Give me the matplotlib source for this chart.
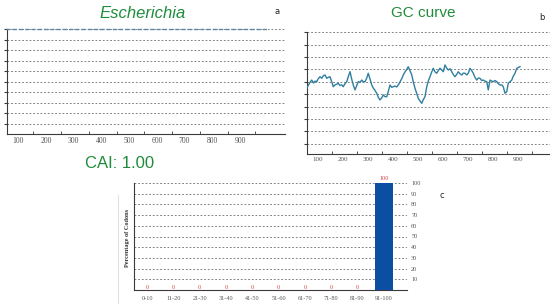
import matplotlib
matplotlib.use("Agg")
import matplotlib.pyplot as plt
import numpy as np

# ---- data ---------------------------------------------------------------
# panel a: CAI curve (flat at 1.0)
cai_x = [55, 1000]
cai_y = [1.0, 1.0]
a_labels = [100, 200, 300, 400, 500, 600, 700, 800, 900]

# panel b: GC curve
gc_x = [55, 62, 68, 75, 82, 88, 95, 101, 108, 115,
        121, 128, 135, 141, 148, 155, 161, 168, 175, 181,
        188, 195, 201, 208, 215, 221, 228, 235, 241, 248,
        255, 261, 268, 275, 281, 288, 295, 301, 308, 315,
        321, 328, 335, 341, 348, 355, 361, 368, 375, 381,
        388, 395, 401, 408, 415, 421, 428, 435, 441, 448,
        455, 461, 468, 475, 481, 488, 495, 501, 508, 515,
        521, 528, 535, 541, 548, 555, 561, 568, 575, 581,
        588, 595, 601, 608, 615, 621, 628, 635, 641, 648,
        655, 661, 668, 675, 681, 688, 695, 701, 708, 715,
        721, 728, 735, 741, 748, 755, 761, 768, 775, 781,
        788, 795, 801, 808, 815, 821, 828, 835, 841, 848,
        855, 861, 868, 875, 881, 888, 895, 901, 908]
gc_y = [54.7, 57.5, 59.5, 61.4, 59.0, 60.5, 60.1, 62.5, 64.1, 62.8,
        64.8, 65.5, 62.8, 63.5, 64.1, 60.0, 56.0, 57.5, 58.0, 58.8,
        57.0, 57.5, 56.0, 58.5, 60.1, 64.0, 68.2, 62.0, 57.4, 53.4,
        57.0, 60.1, 59.5, 61.4, 60.0, 60.1, 63.0, 66.9, 62.0, 57.4,
        55.0, 53.0, 50.7, 47.5, 45.3, 47.0, 49.3, 48.0, 47.9, 52.0,
        57.4, 55.5, 56.0, 56.5, 55.8, 57.4, 60.0, 62.5, 65.5, 68.0,
        70.0, 72.2, 69.0, 65.5, 60.0, 54.7, 50.5, 46.6, 44.5, 42.6,
        45.5, 48.0, 56.0, 60.5, 64.1, 68.0, 70.9, 68.0, 66.9, 69.0,
        70.9, 69.5, 68.1, 73.6, 71.0, 69.5, 70.5, 68.1, 66.0, 64.1,
        66.0, 68.1, 66.5, 65.5, 67.0, 66.9, 65.5, 66.9, 70.9, 69.0,
        66.9, 63.5, 61.4, 63.0, 62.8, 61.0, 61.4, 60.5, 60.1, 53.4,
        61.4, 60.5, 60.1, 61.0, 60.1, 58.5, 57.4, 57.5, 56.0, 50.7,
        52.0, 58.8, 60.0, 61.4, 64.5, 66.9, 70.9, 71.5, 72.2]
b_labels = [100, 200, 300, 400, 500, 600, 700, 800, 900]

# panel c: distribution of codon usage frequency
c_cats = ["0-10", "11-20", "21-30", "31-40", "41-50", "51-60",
          "61-70", "71-80", "81-90", "91-100"]
c_vals = [0, 0, 0, 0, 0, 0, 0, 0, 0, 100]

# ---- styling ------------------------------------------------------------
GREEN = "#1e8c3a"
GRID = "#6e6e6e"
SPINE = "#3a3a3a"
TICKC = "#555555"
SERIF = ["Liberation Serif", "DejaVu Serif"]

fig = plt.figure(figsize=(5.5, 3.04), dpi=100, facecolor="white")


def style_axes(ax, grid_vals):
    for side in ("top", "right"):
        ax.spines[side].set_visible(False)
    for side in ("left", "bottom"):
        ax.spines[side].set_color(SPINE)
        ax.spines[side].set_linewidth(0.8)
    for g in grid_vals:
        ax.axhline(g, color=GRID, lw=0.6, ls=(0, (2.2, 2.2)), zorder=1)


# panel a
ax_a = fig.add_axes([7 / 550, 1 - 134 / 304, 278 / 550, 105 / 304])
style_axes(ax_a, np.arange(0.1, 1.01, 0.1))
ax_a.plot(cai_x, cai_y, color="#5d86a3", lw=1.0, ls=(0, (3, 1.5)),
          zorder=3, clip_on=False)
ax_a.set_xlim(60, 1062)
ax_a.set_ylim(0, 1.0)
ax_a.set_xticks(a_labels)
ax_a.set_xticklabels([str(v) for v in a_labels], fontsize=5.5,
                     color=TICKC, family=SERIF)
ax_a.set_xticks([v + 55 for v in a_labels], minor=True)
ax_a.tick_params(axis="x", which="major", length=0, pad=2)
ax_a.tick_params(axis="x", which="minor", length=2.5, direction="in",
                 color=SPINE)
ax_a.set_yticks(np.arange(0.1, 1.01, 0.1))
ax_a.set_yticklabels([])
ax_a.tick_params(axis="y", length=2, color=SPINE, width=0.8)
fig.text(143 / 550, 1 - 13 / 304, "Escherichia", color=GREEN, fontsize=12,
         style="italic", family="Liberation Sans", ha="center", va="center")
fig.text(277 / 550, 1 - 12 / 304, "a", fontsize=6, color="#222222",
         ha="center", va="center")

# panel b
ax_b = fig.add_axes([307 / 550, 1 - 154 / 304, 243 / 550, 121.7 / 304])
style_axes(ax_b, np.arange(10, 101, 10))
ax_b.plot(gc_x, gc_y, color="#2f7fa0", lw=1.0, zorder=3)
ax_b.set_xlim(56, 1028)
ax_b.set_ylim(1.6, 100)
ax_b.set_xticks(b_labels)
ax_b.set_xticklabels([str(v) for v in b_labels], fontsize=5,
                     color=TICKC, family=SERIF)
ax_b.set_xticks([v + 55 for v in b_labels], minor=True)
ax_b.tick_params(axis="x", which="major", length=0, pad=2)
ax_b.tick_params(axis="x", which="minor", length=2.5, direction="in",
                 color=SPINE)
ax_b.set_yticks(np.arange(10, 101, 10))
ax_b.set_yticklabels([])
ax_b.tick_params(axis="y", length=2, color=SPINE, width=0.8)
fig.text(423 / 550, 1 - 13 / 304, "GC curve", color=GREEN, fontsize=11,
         family="Liberation Sans", ha="center", va="center")
fig.text(542 / 550, 1 - 17 / 304, "b", fontsize=6, color="#222222",
         ha="center", va="center")

# panel c
fig.text(120 / 550, 1 - 163 / 304, "CAI: 1.00", color=GREEN, fontsize=12,
         family="Liberation Sans", ha="center", va="center")
# faint frame edge left of the histogram
fig.add_artist(plt.Line2D([118 / 550, 118 / 550], [0.0, 1 - 195 / 304],
                          color="#e2e2e2", lw=0.8))
ax_c = fig.add_axes([134 / 550, 1 - 290 / 304, 273 / 550, 107 / 304])
style_axes(ax_c, np.arange(10, 101, 10))
xs = np.arange(len(c_cats))
ax_c.bar(xs, c_vals, width=0.68, color="#0b4fa3", zorder=3)
for x, v in zip(xs, c_vals):
    ax_c.text(x, v + 2.8 if v == 0 else v + 1.5, str(v), color="#d04848",
              fontsize=4.5, family=SERIF, ha="center", va="center" if v == 0
              else "bottom", zorder=4, clip_on=False)
ax_c.set_xlim(-0.5, 9.88)
ax_c.set_ylim(0, 100)
ax_c.set_xticks(xs)
ax_c.set_xticklabels(c_cats, fontsize=4.5, color=TICKC, family=SERIF)
ax_c.tick_params(axis="x", length=0, pad=4)
ax_c.yaxis.tick_right()
ax_c.set_yticks(np.arange(10, 101, 10))
ax_c.set_yticklabels([str(v) for v in range(10, 101, 10)], fontsize=4.5,
                     color=TICKC, family=SERIF)
ax_c.tick_params(axis="y", length=0, pad=3)
fig.text(127 / 550, 1 - 238 / 304, "Percentage of Codons", rotation=90,
         fontsize=4.5, fontweight="bold", color="#333333", family=SERIF,
         ha="center", va="center")
fig.text(442 / 550, 1 - 196 / 304, "c", fontsize=6, color="#222222",
         ha="center", va="center")

fig.savefig("out.png", dpi=100, facecolor="white")
